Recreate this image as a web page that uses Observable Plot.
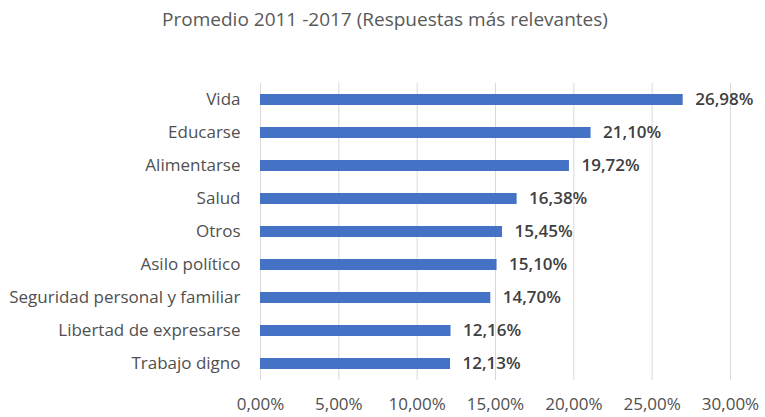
<!DOCTYPE html>
<html>
<head>
<meta charset="utf-8">
<script src="https://cdn.jsdelivr.net/npm/d3@7"></script>
<script src="https://cdn.jsdelivr.net/npm/@observablehq/plot@0.6"></script>
<style>
  body { margin: 0; background: #fff; font-family: "Open Sans", sans-serif; }
  #title { width: 765px; height: 40px; line-height: 38px; text-align: center; font-size: 19px; color: #595959; padding-left: 5px; box-sizing: border-box; }
</style>
</head>
<body>
<div id="title">Promedio 2011 -2017 (Respuestas más relevantes)</div>
<div id="chart"></div>
<script>
const categories = ["Vida", "Educarse", "Alimentarse", "Salud", "Otros", "Asilo político", "Seguridad personal y familiar", "Libertad de expresarse", "Trabajo digno"];
const values = [26.98, 21.10, 19.72, 16.38, 15.45, 15.10, 14.70, 12.16, 12.13];
const xTicks = [0, 5, 10, 15, 20, 25, 30];

const fmt = d => d.toFixed(2).replace(".", ",") + "%";
const data = categories.map((c, i) => ({ category: c, value: values[i] }));

const chart = Plot.plot({
  width: 765,
  height: 377,
  marginTop: 43,
  marginBottom: 37,
  marginLeft: 260,
  marginRight: 35,
  style: { fontFamily: "Open Sans, sans-serif", fontSize: "17px", color: "#505050", background: "#fff" },
  x: { domain: [0, 30], ticks: xTicks, tickFormat: fmt, label: null },
  y: { domain: categories, paddingInner: 0.66, paddingOuter: 0.33, label: null },
  marks: [
    Plot.ruleX(xTicks, { stroke: "#d9d9d9", strokeWidth: 1 }),
    Plot.barX(data, { x: "value", y: "category", fill: "#4472C4" }),
    Plot.text(data, { x: "value", y: "category", text: d => fmt(d.value), textAnchor: "start", dx: 12, fill: "#404040", fontSize: 17, fontWeight: 600 }),
    Plot.axisX({ ticks: xTicks, tickFormat: fmt, tickSize: 0, tickPadding: 17, fontSize: 17, fill: "#505050", label: null }),
    Plot.axisY({ tickSize: 0, tickPadding: 20, fontSize: 17, fill: "#505050", label: null })
  ]
});
document.getElementById("chart").appendChild(chart);
</script>
</body>
</html>
